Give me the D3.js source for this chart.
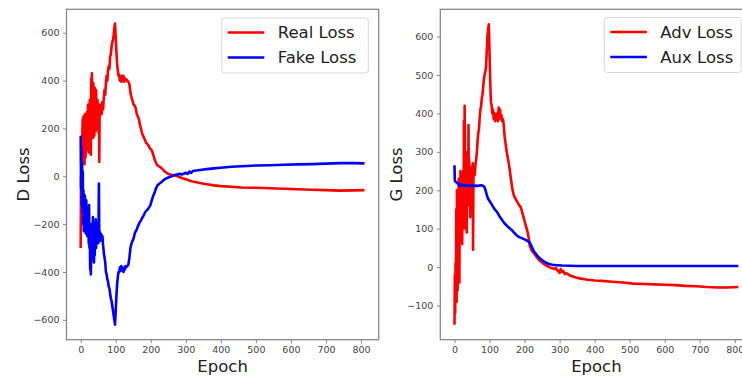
<!DOCTYPE html>
<html><head><meta charset="utf-8">
<script src="https://cdn.jsdelivr.net/npm/d3@7"></script>
<style>html,body{margin:0;padding:0;background:#fff;}svg{display:block;font-family:"DejaVu Sans",sans-serif;}</style>
</head><body><svg id="c" width="742" height="376"></svg>
<script>
// ---------- data: [epoch, loss] ----------
const xTicks = [0,100,200,300,400,500,600,700,800];
const dTicks = [-600,-400,-200,0,200,400,600];
const gTicks = [-100,0,100,200,300,400,500,600];

const realLoss = [[0,-300],[1,0],[2,-150],[3,120],[4,60],[5,200],[6,240],[7,100],[8,250],[9,150],[10,230],[11,50],[12,260],[13,180],[14,80],[15,250],[16,200],[17,110],[18,270],[19,170],[20,120],[21,300],[22,190],[23,100],[24,260],[25,200],[26,320],[27,150],[28,280],[29,90],[30,410],[31,250],[32,430],[33,200],[34,330],[35,160],[36,390],[37,240],[38,300],[39,170],[40,370],[41,220],[42,330],[43,190],[44,360],[45,230],[46,280],[47,200],[48,320],[49,210],[50,270],[51,180],[52,300],[53,60],[54,250],[56,300],[58,290],[60,260],[62,310],[64,280],[66,330],[68,360],[70,340],[72,390],[74,420],[76,400],[78,440],[80,460],[82,450],[84,500],[86,510],[88,540],[90,560],[92,570],[94,590],[96,620],[98,638],[100,580],[102,520],[104,470],[106,440],[108,420],[110,425],[112,400],[114,415],[116,395],[118,420],[120,405],[122,420],[124,395],[126,410],[128,400],[130,405],[133,400],[136,395],[139,385],[142,350],[145,330],[148,315],[151,300],[154,295],[157,285],[160,260],[163,250],[166,240],[169,215],[172,200],[175,180],[178,170],[181,160],[184,150],[187,140],[190,135],[193,130],[196,120],[199,115],[202,110],[205,100],[208,85],[211,70],[214,60],[217,50],[220,45],[225,40],[230,35],[235,28],[240,20],[245,15],[250,10],[260,6],[270,3],[280,-2],[290,-8],[300,-12],[310,-18],[320,-22],[340,-28],[360,-33],[380,-38],[400,-41],[430,-44],[460,-47],[500,-48],[540,-50],[580,-52],[620,-54],[660,-56],[700,-58],[740,-60],[780,-59],[810,-58]];

const fakeLoss = [[0,170],[1,-50],[2,120],[3,-120],[4,60],[5,-150],[6,20],[7,-200],[8,-60],[9,-230],[10,-120],[11,-180],[12,-80],[13,-220],[14,-140],[15,-240],[16,-100],[17,-200],[18,-160],[19,-250],[20,-130],[21,-230],[22,-180],[23,-280],[24,-120],[25,-300],[26,-220],[27,-390],[28,-260],[29,-410],[30,-300],[31,-200],[32,-350],[33,-230],[34,-300],[35,-170],[36,-330],[37,-240],[38,-360],[39,-200],[40,-330],[41,-250],[42,-280],[43,-180],[44,-300],[45,-220],[46,-270],[47,-200],[48,-260],[49,-230],[50,-280],[51,-200],[52,-30],[53,-250],[54,-230],[56,-270],[58,-240],[60,-260],[62,-250],[64,-290],[66,-320],[68,-340],[70,-360],[72,-400],[74,-410],[76,-430],[78,-440],[80,-460],[82,-470],[84,-490],[86,-510],[88,-520],[90,-540],[92,-560],[94,-580],[96,-600],[98,-620],[100,-560],[102,-500],[104,-450],[106,-420],[108,-400],[110,-400],[112,-380],[114,-395],[116,-375],[118,-390],[120,-385],[122,-400],[124,-380],[126,-390],[128,-375],[130,-380],[133,-375],[136,-370],[139,-340],[142,-300],[145,-280],[148,-270],[151,-260],[154,-240],[157,-230],[160,-222],[163,-210],[166,-200],[169,-190],[172,-185],[175,-175],[178,-168],[181,-160],[184,-150],[187,-145],[190,-140],[193,-135],[196,-128],[199,-120],[202,-105],[205,-90],[208,-78],[211,-68],[215,-50],[220,-36],[225,-30],[230,-25],[235,-18],[240,-12],[250,-5],[260,0],[270,6],[280,10],[290,8],[300,15],[305,10],[310,20],[315,14],[320,22],[330,24],[340,26],[360,30],[380,33],[400,36],[430,40],[460,42],[500,45],[540,46],[580,48],[620,50],[660,51],[700,53],[740,55],[780,55],[810,54]];

const advLoss = [[0,-150],[1,-20],[2,-120],[3,10],[4,-80],[5,150],[6,-90],[7,200],[8,60],[9,-60],[10,180],[11,50],[12,230],[13,100],[14,-40],[15,220],[16,120],[17,250],[18,80],[19,190],[20,140],[21,240],[22,60],[23,200],[24,100],[25,250],[26,150],[27,380],[28,200],[29,420],[30,230],[31,100],[32,300],[33,150],[34,250],[35,90],[36,230],[37,170],[38,300],[39,180],[40,370],[41,200],[42,280],[43,160],[44,240],[45,130],[46,250],[47,190],[48,260],[49,170],[50,240],[51,200],[52,270],[53,45],[54,230],[56,260],[58,240],[60,270],[62,280],[64,300],[66,330],[68,350],[70,360],[72,390],[74,410],[76,420],[78,440],[80,450],[82,470],[84,490],[86,500],[88,510],[90,520],[92,560],[94,600],[96,620],[98,632],[100,560],[102,480],[104,430],[106,420],[108,400],[110,410],[112,385],[114,400],[116,380],[118,395],[120,385],[122,400],[124,380],[126,415],[128,390],[130,410],[132,385],[134,395],[136,380],[138,385],[140,375],[143,340],[146,320],[149,300],[152,285],[155,270],[158,250],[161,230],[164,210],[167,195],[170,185],[173,180],[176,175],[179,170],[182,165],[185,160],[188,158],[191,150],[194,140],[197,130],[200,120],[203,110],[206,100],[209,90],[212,75],[215,55],[218,48],[221,42],[225,38],[230,32],[235,26],[240,20],[245,16],[250,12],[255,8],[260,5],[265,3],[270,0],[275,-2],[280,-3],[285,-5],[290,-3],[295,-10],[300,-15],[303,-5],[306,-12],[310,-10],[315,-18],[320,-16],[330,-22],[340,-25],[350,-28],[360,-30],[380,-33],[400,-35],[420,-36],[450,-38],[480,-40],[510,-43],[540,-44],[570,-45],[600,-46],[630,-47],[660,-49],[690,-50],[720,-52],[750,-53],[780,-53],[810,-52]];

const auxLoss = [[0,265],[1,225],[3,222],[6,220],[9,218],[12,215],[15,212],[18,216],[21,213],[24,211],[27,214],[30,212],[35,211],[40,213],[45,211],[50,212],[55,211],[60,212],[65,211],[70,212],[75,213],[80,212],[84,210],[87,205],[90,195],[93,185],[96,178],[100,172],[105,165],[110,157],[115,150],[120,145],[125,138],[130,130],[135,124],[140,117],[145,112],[150,107],[155,103],[160,99],[165,95],[170,90],[175,85],[180,81],[185,78],[190,76],[195,74],[200,72],[205,70],[210,67],[214,65],[218,58],[222,50],[226,42],[231,36],[236,30],[241,25],[246,21],[250,18],[255,15],[260,12],[265,10],[270,8],[279,6],[290,5],[307,4],[350,3],[400,3],[500,3],[600,3],[700,3],[810,3]];

// ---------- drawing ----------
const svg = d3.select("#c");
const FONT = '"DejaVu Sans", sans-serif';
const yTop = 9.3, yBot = 339.7, plotW = 312.2;

function panel(opts){
  const x = d3.scaleLinear().domain([-40.5, 850.5]).range([opts.left, opts.left + plotW]);
  const y = d3.scaleLinear().domain(opts.yDomain).range([yBot, yTop]);
  const g = svg.append("g");
  const line = d3.line().x(d=>x(d[0])).y(d=>y(d[1]));
  opts.series.forEach(s=>{
    g.append("path").datum(s.data).attr("d", line)
      .attr("fill","none").attr("stroke", s.color).attr("stroke-width", 2.6)
      .attr("stroke-linejoin","round");
  });
  const fmt = d => d < 0 ? "\u2212" + Math.abs(d) : String(d);
  const xa = g.append("g").attr("transform",`translate(0,${yBot})`)
    .call(d3.axisBottom(x).tickValues(xTicks).tickFormat(fmt).tickSize(3.5).tickPadding(3.5));
  const ya = g.append("g").attr("transform",`translate(${opts.left},0)`)
    .call(d3.axisLeft(y).tickValues(opts.yTicks).tickFormat(fmt).tickSize(3.5).tickPadding(3.5));
  [xa, ya].forEach(a=>{
    a.select(".domain").remove();
    a.selectAll("line").attr("stroke","#888").attr("stroke-width",1);
    a.selectAll("text").attr("fill","#444").style("font-size","9.5px").style("font-family",FONT);
  });
  g.append("rect").attr("x", opts.left).attr("y", yTop)
    .attr("width", plotW).attr("height", yBot - yTop)
    .attr("fill","none").attr("stroke","#888").attr("stroke-width",1.3);
  g.append("text").attr("x", opts.left + plotW/2).attr("y", 372)
    .attr("text-anchor","middle").attr("fill","#222")
    .style("font-size","16.5px").style("font-family",FONT).text("Epoch");
  g.append("text").attr("transform",`translate(${opts.ylabX},${(yTop+yBot)/2}) rotate(-90)`)
    .attr("text-anchor","middle").attr("fill","#222")
    .style("font-size","16.5px").style("font-family",FONT).text(opts.ylabel);
  const L = opts.legend;
  g.append("rect").attr("x", L.x).attr("y", L.y).attr("width", L.w).attr("height", 55)
    .attr("rx", 3).attr("fill","#fff").attr("fill-opacity",0.85)
    .attr("stroke","#d8d8d8").attr("stroke-width",1);
  opts.series.forEach((s,i)=>{
    const ly = L.y + 14.5 + i*25;
    g.append("line").attr("x1", L.x + 6).attr("x2", L.x + 42.6).attr("y1", ly).attr("y2", ly)
      .attr("stroke", s.color).attr("stroke-width", 2.6);
    g.append("text").attr("x", L.x + 56).attr("y", ly).attr("dy","0.36em")
      .attr("fill","#222").style("font-size","16.5px").style("font-family",FONT).text(s.name);
  });
}

panel({
  left: 66.5, yDomain: [-683, 698], yTicks: dTicks, ylabel: "D Loss", ylabX: 28.5,
  legend: {x: 221.7, y: 18, w: 146.6},
  series: [
    {name: "Real Loss", color: "#ff0000", data: realLoss},
    {name: "Fake Loss", color: "#0000ff", data: fakeLoss}
  ]
});
panel({
  left: 440.3, yDomain: [-189, 671], yTicks: gTicks, ylabel: "G Loss", ylabX: 401.5,
  legend: {x: 604.3, y: 17.5, w: 137},
  series: [
    {name: "Adv Loss", color: "#ff0000", data: advLoss},
    {name: "Aux Loss", color: "#0000ff", data: auxLoss}
  ]
});
</script></body></html>
